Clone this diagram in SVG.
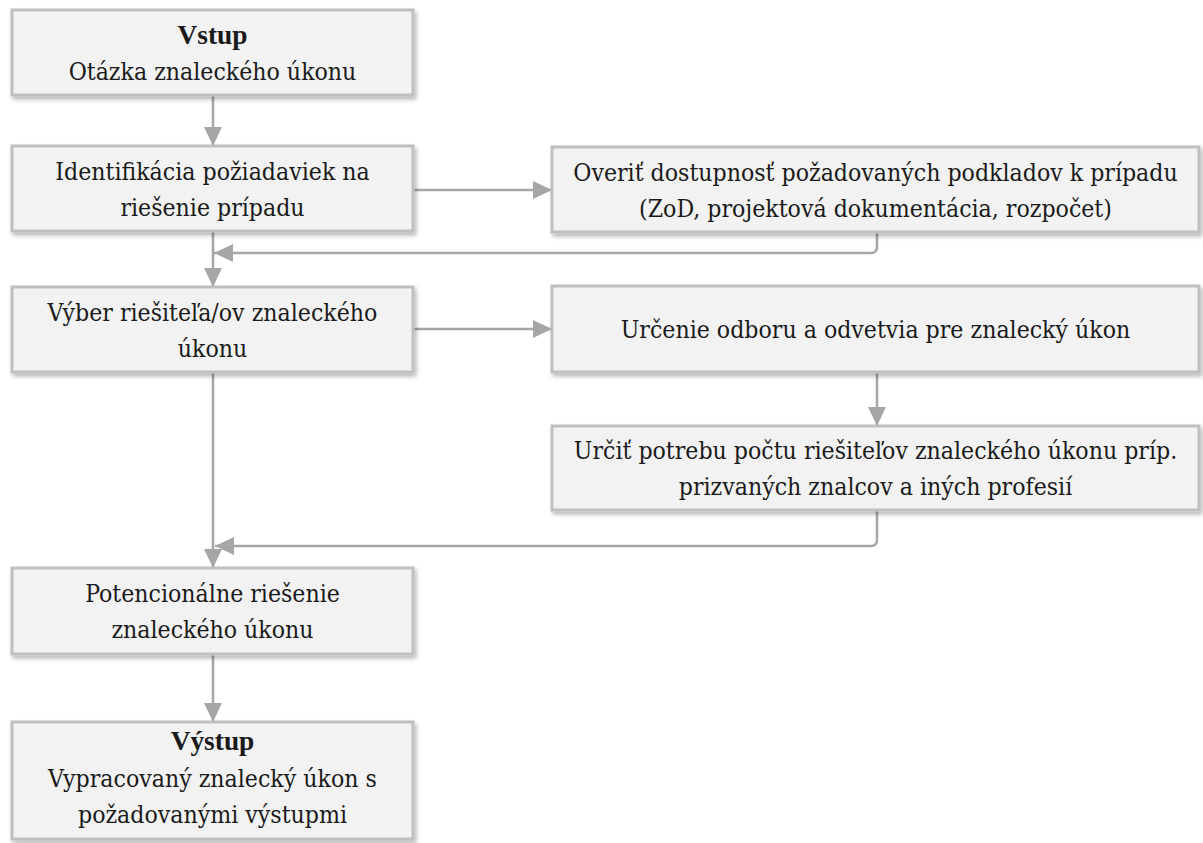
<svg xmlns="http://www.w3.org/2000/svg" width="1203" height="843" viewBox="0 0 1203 843">
<defs>
<filter id="sh" x="-5%" y="-10%" width="110%" height="130%">
<feDropShadow dx="2" dy="3" stdDeviation="2" flood-color="#000" flood-opacity="0.28"/>
</filter>
<marker id="ah" markerWidth="20" markerHeight="20" refX="19" refY="10" orient="auto" markerUnits="userSpaceOnUse">
<path d="M0,1 L19,10 L0,19 Z" fill="#a6a6a6"/>
</marker>
<style>
.box{fill:#f2f2f2;stroke:#bfbfbf;stroke-width:3;filter:url(#sh)}
text{font-family:"DejaVu Serif Condensed","DejaVu Serif",serif;font-stretch:condensed;font-size:24.6px;fill:#1a1a1a;text-anchor:middle}
text.b{font-family:"Liberation Serif","DejaVu Serif",serif;font-stretch:normal;font-size:27.4px;font-weight:bold}
.c{fill:none;stroke:#a6a6a6;stroke-width:2.5;marker-end:url(#ah)}
</style>
</defs>
<rect width="1203" height="843" fill="#ffffff"/>
<g id="connectors">
<path class="c" d="M213,95 V146"/>
<path class="c" d="M413,190 H552"/>
<path class="c" d="M877,232 V247 Q877,253 871,253 H214"/>
<path class="c" d="M213,231 V287"/>
<path class="c" d="M413,329 H552"/>
<path class="c" d="M877,372 V426"/>
<path class="c" d="M877,510 V540 Q877,546 871,546 H215"/>
<path class="c" d="M213,372 V568"/>
<path class="c" d="M213,654 V722"/>
</g>
<g id="n1">
<rect class="box" x="12" y="10" width="401" height="85"/>
<text class="b" x="212.5" y="43.5">Vstup</text>
<text x="212.5" y="79.5">Otázka znaleckého úkonu</text>
</g>
<g id="n2">
<rect class="box" x="12" y="146" width="401" height="85"/>
<text x="212.5" y="179.5">Identifikácia požiadaviek na</text>
<text x="212.5" y="215.5">riešenie prípadu</text>
</g>
<g id="n3">
<rect class="box" x="552" y="147" width="647" height="85"/>
<text x="875.5" y="180.5">Overiť dostupnosť požadovaných podkladov k prípadu</text>
<text x="875.5" y="216.5">(ZoD, projektová dokumentácia, rozpočet)</text>
</g>
<g id="n4">
<rect class="box" x="12" y="287" width="401" height="85"/>
<text x="212.5" y="320.5">Výber riešiteľa/ov znaleckého</text>
<text x="212.5" y="356.5">úkonu</text>
</g>
<g id="n5">
<rect class="box" x="552" y="286" width="647" height="86"/>
<text x="875.5" y="338">Určenie odboru a odvetvia pre znalecký úkon</text>
</g>
<g id="n6">
<rect class="box" x="552" y="426" width="647" height="84"/>
<text x="875.5" y="459">Určiť potrebu počtu riešiteľov znaleckého úkonu príp.</text>
<text x="875.5" y="495">prizvaných znalcov a iných profesií</text>
</g>
<g id="n7">
<rect class="box" x="12" y="568" width="401" height="86"/>
<text x="212.5" y="602">Potencionálne riešenie</text>
<text x="212.5" y="638">znaleckého úkonu</text>
</g>
<g id="n8">
<rect class="box" x="12" y="722" width="401" height="117"/>
<text class="b" x="212.5" y="750">Výstup</text>
<text x="212.5" y="787">Vypracovaný znalecký úkon s</text>
<text x="212.5" y="823">požadovanými výstupmi</text>
</g>
</svg>
